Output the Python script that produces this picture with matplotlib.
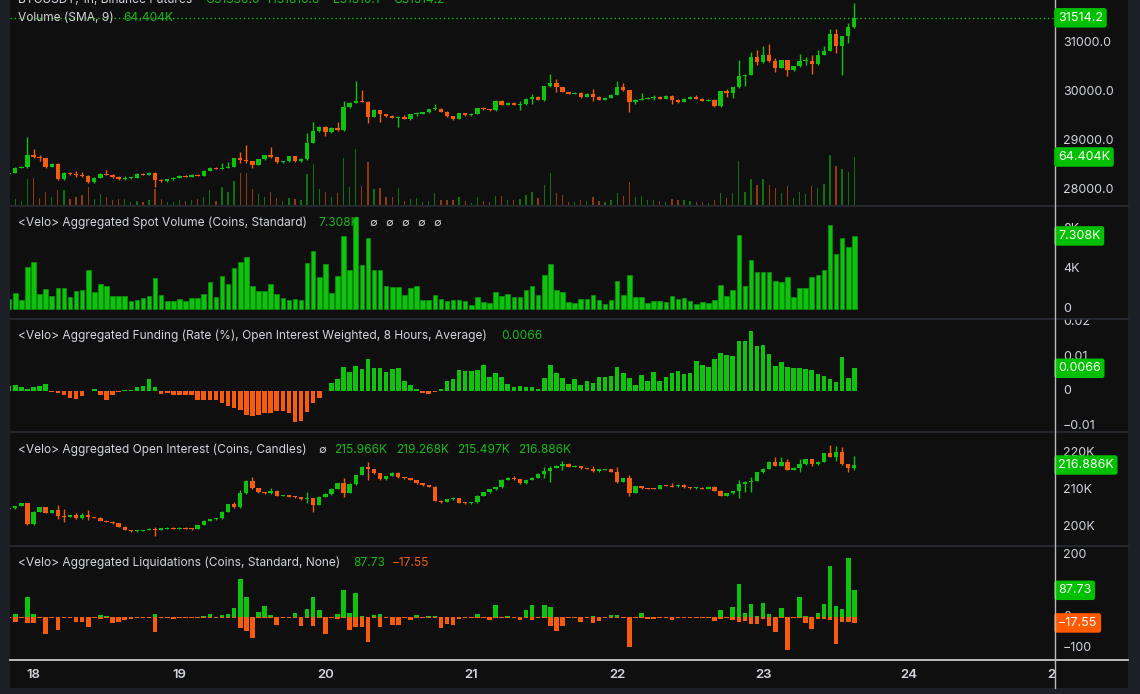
import numpy as np
import matplotlib
matplotlib.use('Agg')
import matplotlib.pyplot as plt
from matplotlib.lines import Line2D

plt.rcParams['font.family'] = ['Inter', 'DejaVu Sans']

# hourly bars, hour 0 = the 18th 00:00
hours = np.arange(-4, 136)
day_labels = ['18', '19', '20', '21', '22', '23', '24', '25']
day_hours = [0, 24, 48, 72, 96, 120, 144, 168]

# BTCUSDT 1h (Binance Futures)
price_open0 = 28320.0
price_close = [
    28350, 28450, 28470, 28710, 28670, 28650, 28470, 28530, 28220, 28350,
    28320, 28300, 28290, 28160, 28250, 28330, 28310, 28270, 28220, 28240,
    28250, 28330, 28310, 28350, 28200, 28180, 28220, 28250, 28290, 28270,
    28310, 28290, 28390, 28450, 28430, 28450, 28470, 28650, 28610, 28590,
    28510, 28630, 28710, 28670, 28570, 28590, 28690, 28590, 28630, 28960,
    29200, 29290, 29180, 29270, 29220, 29690, 29780, 29820, 29800, 29490,
    29630, 29550, 29510, 29470, 29490, 29450, 29550, 29560, 29590, 29650,
    29660, 29600, 29510, 29450, 29570, 29530, 29560, 29670, 29650, 29630,
    29820, 29740, 29780, 29740, 29760, 29860, 29900, 29840, 30120, 30180,
    30100, 30000, 29960, 29980, 29900, 29960, 29900, 29840, 29880, 29940,
    30100, 30040, 29800, 29840, 29860, 29880, 29900, 29860, 29920, 29840,
    29800, 29860, 29900, 29860, 29820, 29840, 29710, 30020, 29980, 30100,
    30330, 30350, 30710, 30610, 30760, 30630, 30490, 30650, 30450, 30530,
    30630, 30640, 30570, 30760, 30840, 31180, 30940, 31140, 31330, 31514.2]
price_high = [
    28370, 28470, 28490, 29080, 28840, 28720, 28660, 28550, 28560, 28360,
    28360, 28390, 28360, 28300, 28260, 28340, 28400, 28320, 28280, 28280,
    28270, 28340, 28340, 28370, 28370, 28220, 28230, 28260, 28300, 28300,
    28320, 28330, 28400, 28470, 28460, 28550, 28570, 28660, 28780, 28920,
    28600, 28640, 28720, 28880, 28680, 28600, 28700, 28700, 28650, 29160,
    29390, 29300, 29300, 29280, 29390, 29820, 29790, 30220, 30040, 29810,
    29650, 29640, 29560, 29530, 29510, 29530, 29560, 29590, 29600, 29660,
    29760, 29670, 29610, 29520, 29580, 29580, 29570, 29680, 29700, 29660,
    29840, 29830, 29790, 29790, 29810, 29870, 29960, 29910, 30130, 30370,
    30260, 30110, 30010, 29990, 29990, 29970, 30060, 29910, 29890, 29950,
    30220, 30180, 30050, 29850, 29980, 29890, 29940, 29920, 29930, 29930,
    29850, 29870, 29920, 29940, 29870, 29850, 29850, 30030, 30060, 30110,
    30650, 30370, 30820, 30860, 30940, 30980, 30690, 30660, 30660, 30540,
    30770, 30720, 30750, 30860, 30940, 31290, 31290, 31150, 31410, 31816.6]
price_low = [
    28300, 28340, 28440, 28450, 28660, 28590, 28450, 28460, 28200, 28210,
    28300, 28270, 28260, 28140, 28150, 28240, 28300, 28250, 28210, 28200,
    28220, 28240, 28300, 28300, 28060, 28170, 28170, 28210, 28240, 28260,
    28260, 28280, 28280, 28380, 28420, 28420, 28440, 28460, 28550, 28560,
    28450, 28500, 28620, 28660, 28550, 28560, 28580, 28580, 28580, 28620,
    28950, 29190, 29100, 29170, 29210, 29210, 29680, 29770, 29790, 29370,
    29480, 29390, 29490, 29460, 29290, 29440, 29420, 29520, 29550, 29580,
    29640, 29590, 29490, 29430, 29440, 29520, 29520, 29550, 29640, 29620,
    29620, 29730, 29730, 29730, 29640, 29740, 29750, 29830, 29820, 30110,
    29990, 29990, 29950, 29950, 29880, 29890, 29820, 29830, 29830, 29870,
    29930, 30030, 29590, 29750, 29830, 29850, 29840, 29850, 29850, 29750,
    29780, 29790, 29850, 29850, 29810, 29820, 29690, 29700, 29900, 29880,
    30090, 30120, 30340, 30550, 30600, 30620, 30400, 30480, 30330, 30430,
    30520, 30550, 30370, 30560, 30750, 30830, 30800, 30350, 31000, 31310]
volume_k = [
    2.7, 7.6, 5.4, 34.8, 36.2, 9.4, 17.4, 10.7, 20.1, 20.1,
    8.0, 10.7, 13.4, 24.1, 8.0, 14.7, 10.7, 6.7, 8.0, 8.0,
    4.0, 5.4, 4.0, 6.7, 21.4, 8.0, 4.0, 4.0, 6.7, 5.4,
    6.7, 8.0, 10.7, 20.1, 5.4, 24.1, 17.4, 32.2, 42.9, 42.9,
    21.4, 14.7, 10.7, 17.4, 9.4, 5.4, 9.4, 8.0, 6.7, 41.5,
    54.9, 21.4, 17.4, 10.7, 16.1, 63.0, 24.1, 75.0, 25.5, 57.6,
    21.4, 22.8, 10.7, 10.7, 22.8, 5.4, 8.0, 9.4, 4.0, 5.4,
    16.1, 6.7, 6.7, 6.7, 10.7, 5.4, 2.7, 10.7, 5.4, 4.0,
    12.1, 12.1, 6.7, 6.7, 8.0, 13.4, 17.4, 9.4, 26.8, 42.9,
    16.1, 13.4, 4.0, 4.0, 6.7, 5.4, 10.7, 5.4, 4.0, 6.7,
    16.1, 12.1, 30.8, 10.7, 12.1, 6.7, 6.7, 5.4, 4.0, 8.0,
    6.7, 6.7, 5.4, 4.0, 4.0, 2.7, 6.7, 16.1, 9.4, 16.1,
    59.0, 17.4, 34.8, 26.8, 34.8, 26.8, 22.8, 16.1, 25.5, 9.4,
    17.4, 14.7, 25.5, 22.8, 28.1, 67.0, 52.3, 48.2, 44.2, 64.404]

# <Velo> Aggregated Spot Volume, thousands of coins
spot_volume_k = [
    1.0, 1.6, 0.93, 4.2, 4.7, 1.5, 2.0, 1.3, 2.1, 2.1,
    1.2, 1.8, 1.9, 3.9, 1.7, 2.5, 2.3, 1.3, 1.3, 1.3,
    0.8, 0.9, 1.1, 1.3, 3.1, 1.4, 0.8, 0.8, 1.0, 0.8,
    1.1, 1.1, 1.5, 2.7, 1.2, 3.3, 2.5, 4.1, 4.7, 5.2,
    2.3, 1.8, 1.8, 2.5, 1.5, 1.1, 0.9, 1.0, 0.9, 4.6,
    5.8, 3.2, 4.5, 1.6, 3.3, 7.3, 3.9, 9.2, 4.4, 7.1,
    3.9, 3.9, 2.3, 2.2, 2.2, 1.4, 2.1, 2.3, 0.9, 0.9,
    1.4, 1.0, 0.8, 0.9, 0.9, 0.8, 0.4, 1.2, 0.7, 0.6,
    1.7, 1.3, 1.5, 1.2, 1.2, 1.9, 2.3, 1.4, 3.4, 4.5,
    1.9, 1.7, 0.7, 0.6, 1.0, 1.0, 1.4, 0.9, 0.5, 0.9,
    2.8, 1.4, 3.4, 1.2, 1.2, 0.6, 0.8, 0.8, 0.7, 1.3,
    1.0, 1.1, 0.8, 0.5, 0.7, 0.6, 0.9, 2.4, 1.3, 1.9,
    7.4, 2.3, 4.9, 3.7, 3.7, 3.7, 2.8, 2.7, 3.2, 1.2,
    2.1, 2.1, 3.2, 3.4, 3.9, 8.4, 5.5, 7.1, 6.2, 7.308]

# <Velo> Aggregated Funding, rate in %
funding = [
    0.00135, 0.0018, 0.0012, 0.0006, 0.0013, 0.0015, 0.0021, -0.0003, -0.0007, -0.0013,
    -0.0020, -0.0022, -0.0015, -0.0001, 0.0006, -0.0013, -0.0025, -0.0013, -0.0003, 0.0003,
    0.0003, 0.0011, 0.0014, 0.0035, 0.0013, -0.0009, -0.0007, -0.0013, -0.0013, -0.0013,
    -0.0013, -0.0025, -0.0026, -0.0025, -0.0025, -0.0035, -0.0043, -0.0049, -0.0056, -0.0069,
    -0.0072, -0.0070, -0.0064, -0.0064, -0.0059, -0.0059, -0.0064, -0.0091, -0.0087, -0.0060,
    -0.0036, -0.0020, 0.0001, 0.0022, 0.0036, 0.0069, 0.0055, 0.0072, 0.0064, 0.0092,
    0.0067, 0.0067, 0.0055, 0.0065, 0.0067, 0.0028, 0.0018, 0.0007, -0.0006, -0.0009,
    -0.0003, 0.0005, 0.0028, 0.0035, 0.0061, 0.0058, 0.0058, 0.0060, 0.0074, 0.0042,
    0.0052, 0.0040, 0.0020, 0.0012, 0.0014, 0.0013, 0.0012, 0.0007, 0.0038, 0.0076,
    0.0051, 0.0037, 0.0021, 0.0034, 0.0018, 0.0029, 0.0023, 0.0040, 0.0040, 0.0043,
    0.0070, 0.0053, 0.0038, 0.0017, 0.0045, 0.0028, 0.0055, 0.0029, 0.0041, 0.0053,
    0.0058, 0.0048, 0.0051, 0.0087, 0.0076, 0.0070, 0.0093, 0.0109, 0.0104, 0.0101,
    0.0146, 0.0144, 0.0173, 0.0130, 0.0132, 0.0106, 0.0072, 0.0084, 0.0069, 0.0068,
    0.0067, 0.0064, 0.0060, 0.0049, 0.0043, 0.0036, 0.0027, 0.0098, 0.0039, 0.0066]

# <Velo> Aggregated Open Interest, thousands of coins
oi_open0 = 204.9
oi_close = [
    205.2, 205.8, 206.5, 200.9, 204.3, 205.5, 204.0, 204.7, 203.1, 202.9,
    203.4, 202.5, 203.3, 202.8, 202.7, 201.8, 201.6, 201.1, 200.2, 199.3,
    199.05, 199.14, 199.32, 199.68, 199.32, 199.77, 199.95, 199.68, 199.95, 199.68,
    199.59, 200.68, 201.76, 202.21, 202.48, 204.28, 206.26, 205.45, 209.23, 212.57,
    210.59, 209.50, 209.23, 209.86, 208.60, 208.78, 208.33, 208.24, 207.61, 207.88,
    206.08, 208.33, 209.05, 210.50, 211.94, 209.41, 211.76, 214.19, 216.44, 215.72,
    214.64, 213.02, 213.92, 214.82, 213.56, 213.29, 212.84, 211.94, 211.49, 211.04,
    207.25, 206.89, 207.61, 208.06, 206.71, 206.53, 206.80, 208.60, 209.50, 210.32,
    210.86, 212.84, 213.47, 213.02, 211.94, 212.84, 213.47, 214.46, 215.36, 216.17,
    216.62, 217.16, 216.44, 216.62, 215.99, 215.81, 215.27, 215.72, 215.81, 215.00,
    212.39, 213.29, 209.41, 211.22, 210.59, 210.50, 210.41, 211.49, 211.22, 211.13,
    211.58, 210.86, 210.59, 210.77, 210.41, 211.04, 209.95, 208.51, 209.23, 209.77,
    211.67, 212.39, 212.66, 214.91, 215.81, 217.79, 216.71, 217.79, 215.54, 216.17,
    217.16, 218.51, 217.16, 217.79, 220.05, 219.14, 220.41, 217.07, 215.966, 216.886]
oi_high = [
    205.3, 205.9, 206.7, 206.6, 204.4, 205.6, 205.6, 204.8, 206.1, 204.9,
    203.5, 203.8, 203.8, 204.7, 202.9, 202.8, 201.9, 201.7, 201.2, 200.3,
    199.4, 199.3, 199.4, 199.8, 200.0, 199.9, 200.1, 200.0, 200.1, 200.1,
    199.8, 200.8, 201.9, 202.4, 202.6, 204.4, 206.4, 207.0, 210.0, 212.7,
    213.6, 210.7, 209.6, 210.8, 210.0, 208.9, 208.9, 208.4, 208.3, 209.5,
    207.9, 208.4, 209.2, 210.6, 212.1, 213.3, 211.9, 214.3, 216.6, 217.8,
    215.8, 214.7, 214.0, 214.9, 214.9, 213.7, 213.4, 212.9, 212.0, 211.6,
    211.1, 207.4, 207.7, 208.2, 208.1, 206.8, 206.9, 208.7, 209.6, 210.4,
    211.0, 213.0, 213.6, 213.9, 213.1, 212.9, 213.6, 214.6, 216.4, 216.7,
    216.8, 218.1, 217.3, 216.8, 216.7, 216.1, 216.6, 215.8, 215.9, 215.9,
    216.4, 213.4, 214.2, 211.3, 211.3, 210.7, 210.6, 211.6, 211.6, 211.9,
    211.7, 211.7, 210.9, 210.9, 210.9, 211.2, 211.1, 210.0, 209.3, 209.9,
    212.8, 212.5, 213.7, 215.0, 216.0, 217.9, 219.0, 219.1, 218.4, 216.3,
    218.4, 218.6, 218.6, 217.9, 220.2, 222.3, 222.0, 221.8, 217.2, 219.268]
oi_low = [
    204.8, 205.1, 205.7, 200.7, 200.8, 204.2, 203.9, 203.9, 202.2, 201.6,
    202.8, 202.4, 202.2, 202.0, 202.5, 201.7, 201.5, 201.0, 200.1, 199.2,
    198.9, 198.9, 199.0, 199.2, 197.7, 199.2, 199.7, 199.6, 199.6, 199.6,
    199.4, 199.5, 200.6, 201.7, 202.1, 202.4, 204.2, 205.2, 205.3, 209.1,
    210.5, 209.4, 209.1, 209.1, 208.5, 208.5, 208.2, 208.1, 207.5, 206.5,
    204.3, 206.0, 208.2, 208.9, 210.4, 208.3, 209.3, 211.6, 214.1, 212.8,
    214.5, 212.9, 212.9, 213.8, 213.4, 213.2, 212.7, 211.8, 211.3, 210.9,
    207.1, 206.7, 206.8, 207.5, 206.6, 206.4, 206.4, 206.7, 208.5, 209.4,
    210.2, 210.8, 212.7, 212.9, 211.8, 211.8, 212.7, 213.4, 213.3, 212.4,
    216.0, 215.6, 216.3, 216.3, 215.9, 215.7, 215.1, 215.1, 215.6, 214.9,
    212.1, 212.2, 208.5, 209.3, 210.5, 210.4, 210.3, 210.3, 211.1, 211.0,
    211.0, 210.8, 210.5, 210.5, 210.3, 210.3, 209.8, 208.4, 208.4, 209.1,
    207.9, 209.7, 209.7, 212.5, 214.8, 215.7, 216.6, 216.6, 215.4, 215.4,
    215.0, 217.0, 216.6, 217.0, 217.7, 219.0, 218.1, 216.9, 215.1, 215.497]

# <Velo> Aggregated Liquidations, coins (long +, short -)
liq_long = [
    1.0, 10.2, 0.8, 67, 10, 0.8, 0.5, 0.8, 0.5, 0.8,
    0.8, 0.5, 1.5, 0.5, 1.0, 8, 4.8, 0.5, 0.5, 0.8,
    1.0, 2.7, 1.0, 1.0, 11.3, 0.8, 0.8, 0.5, 2.7, 1.0,
    1.0, 1.0, 4.8, 11.3, 1.0, 9.1, 12.4, 29.6, 123, 67,
    0.5, 18.8, 37, 9.1, 0.5, 0.8, 0.8, 14.5, 0.5, 26.3,
    65, 24.2, 0.5, 0.8, 10.2, 88.7, 14.5, 78, 5.9, 0.5,
    8, 10.2, 1.0, 0.5, 0.5, 1.5, 0.5, 8, 1.0, 4.8,
    4.8, 0.5, 0.5, 0.5, 2.7, 1.0, 1.0, 10.2, 1.0, 0.5,
    40, 1.0, 4.8, 1.0, 0.5, 24.2, 40, 2.7, 40, 34,
    0.5, 0.5, 1.0, 1.0, 0.5, 2.7, 5.9, 0.5, 1.0, 7,
    9.1, 1.0, 0.5, 2.7, 15.6, 0.5, 0.5, 1.0, 1.0, 0.5,
    1.0, 1.0, 2.7, 1.0, 2.7, 1.0, 0.5, 24.2, 1.0, 34,
    107, 13.4, 43.5, 4.8, 45.7, 11.3, 0.5, 31.7, 0.5, 1.6,
    65, 4.8, 0.5, 13.4, 42.5, 167, 37, 28.5, 191, 87.73]
liq_short = [
    -2, -13.4, -2.7, -18.8, -18.8, -1.5, -54, -1.0, -40, -1.0,
    -1.5, -15.6, -13.4, -29.6, -1.0, -4.8, -1.5, -18.8, -13.4, -9,
    -4.8, -1.0, -1.5, -1.5, -47.8, -1.0, -1.5, -5.9, -1.0, -1.0,
    -1.0, -1.0, -1.0, -1.5, -1.0, -1.0, -1.0, -1.5, -35, -43.5,
    -67, -1.5, -1.0, -1.0, -24.2, -1.5, -1.0, -1.5, -27.4, -1.0,
    -27.4, -1.0, -53, -1.5, -5.9, -1.0, -40, -29.6, -29.6, -78,
    -1.5, -29.6, -1.5, -24.2, -24.2, -1.0, -8, -1.0, -1.5, -1.0,
    -1.0, -35, -21, -24.2, -4.8, -2, -1.5, -1.0, -1.5, -7,
    -1.0, -1.5, -1.0, -2, -9, -1.0, -9, -1.0, -1.0, -28.5,
    -43.5, -26.3, -2, -1.5, -15.6, -1.0, -16.7, -11.3, -1.5, -1.0,
    -1.0, -1.5, -96, -1.0, -1.0, -5.9, -5.9, -1.5, -1.5, -9,
    -1.5, -1.5, -1.0, -1.5, -1.0, -1.5, -11.3, -4.8, -1.5, -8,
    -15.6, -11.3, -22, -22, -4.8, -26.3, -47.8, -1.5, -105, -1.5,
    -1.0, -16.7, -38, -4.8, -4.8, -9, -84, -15.6, -15.6, -17.55]

# ---- style ----
W, H = 1140, 694
GREEN = '#0ec20e'
RED = '#f75c0e'
BG = '#0f0f0f'
FRAME = '#1c1f26'
TXT = '#d1d4dc'
LEG_GREEN = '#1cb81c'
SEP = '#2a2d35'
FS = 8.6


def px2h(px):
    return (px - 33.5) / 6.08


XL = (px2h(10), px2h(1128))
SCALE_X = px2h(1055)

fig = plt.figure(figsize=(W / 100, H / 100), dpi=100, facecolor=FRAME)

bg = fig.add_axes([10 / W, 1 - 688 / H, 1118 / W, 688 / H])
bg.set_facecolor(BG)
bg.set_xticks([])
bg.set_yticks([])
for s in bg.spines.values():
    s.set_visible(False)


def panel(top, bottom, ylim):
    ax = fig.add_axes([10 / W, 1 - bottom / H, 1118 / W, (bottom - top) / H])
    ax.set_facecolor('none')
    ax.set_xlim(*XL)
    ax.set_ylim(*ylim)
    ax.set_xticks([])
    ax.set_yticks([])
    for s in ax.spines.values():
        s.set_visible(False)
    return ax


def candles(ax, opens, hi, lo, closes, min_body):
    o = np.asarray(opens, float)
    c = np.asarray(closes, float)
    cols = np.where(c >= o, GREEN, RED)
    ax.vlines(hours, lo, hi, colors=cols, lw=1.0, zorder=3)
    body = np.abs(c - o)
    pad = np.maximum(min_body - body, 0) / 2
    ax.bar(hours, body + 2 * pad, bottom=np.minimum(o, c) - pad, width=0.72,
           color=cols, lw=0, zorder=4)
    return cols


def scale_labels(ax, ticks, labels):
    for v, s in zip(ticks, labels):
        ax.text(px2h(1063), v, s, color=TXT, fontsize=9, va='center', ha='left',
                clip_on=True, zorder=5)


def value_box(ax, v, s, color):
    ax.text(px2h(1058), v, s, color='white', fontsize=9, va='center', ha='left',
            clip_on=True, zorder=6,
            bbox=dict(boxstyle='round,pad=0.3,rounding_size=0.2', fc=color, ec='none'))


def legend(y, parts):
    for x, s, col in parts:
        fig.text(x / W, 1 - y / H, s, color=col, fontsize=FS, va='center', ha='left')


# ---- panel 1: price + volume ----
ax1 = panel(0, 206, (27673, 31878))
axv = ax1.twinx()
axv.set_ylim(-1.3, 274.7)
axv.set_yticks([])
for s in axv.spines.values():
    s.set_visible(False)
ax1.set_zorder(3)
axv.set_zorder(2)
axv.set_facecolor('none')

p_open = np.concatenate([[price_open0], price_close[:-1]])
cols = candles(ax1, p_open, price_high, price_low, price_close, 20)
axv.bar(hours, volume_k, width=0.22, color=cols, alpha=0.55, lw=0)
ax1.hlines(price_close[-1], XL[0], SCALE_X, colors=GREEN, linestyles=(0, (1, 2)), lw=1, zorder=2)
scale_labels(ax1, [31000, 30000, 29000, 28000], ['31000.0', '30000.0', '29000.0', '28000.0'])
value_box(ax1, price_close[-1], '31514.2', '#00c000')
value_box(axv, volume_k[-1], '64.404K', '#00c000')

legend(0, [(18, 'BTCUSDT, 1h, Binance Futures', TXT),
           (205, 'O31330.0', LEG_GREEN), (268, 'H31816.6', LEG_GREEN),
           (333, 'L31310.1', LEG_GREEN), (393, 'C31514.2', LEG_GREEN)])
legend(18, [(18, 'Volume (SMA, 9)', TXT), (123, '64.404K', LEG_GREEN)])

# ---- panel 2: spot volume ----
ax2 = panel(206, 319, (-1.0, 10.3))
ax2.bar(hours, spot_volume_k, width=0.75, color=GREEN, edgecolor='#089808', lw=0.5)
scale_labels(ax2, [8, 4, 0], ['8K', '4K', '0'])
value_box(ax2, spot_volume_k[-1], '7.308K', '#00c000')
legend(223, [(18, '<Velo> Aggregated Spot Volume (Coins, Standard)', TXT),
             (318, '7.308K', LEG_GREEN)])
for x in [369, 385, 401, 417, 433]:
    fig.text(x / W, 1 - 223 / H, '\u2205', color=TXT, fontsize=8, va='center', ha='left')

# ---- panel 3: funding ----
ax3 = panel(319, 432, (-0.01188, 0.02087))
fcol = np.where(np.asarray(funding) >= 0, GREEN, RED)
ax3.bar(hours, funding, width=0.75, color=fcol, lw=0)
scale_labels(ax3, [0.02, 0.01, 0, -0.01], ['0.02', '0.01', '0', '\u22120.01'])
value_box(ax3, funding[-1], '0.0066', '#00c000')
legend(336, [(18, '<Velo> Aggregated Funding (Rate (%), Open Interest Weighted, 8 Hours, Average)', TXT),
             (501, '0.0066', LEG_GREEN)])

# ---- panel 4: open interest ----
ax4 = panel(432, 546, (195.0, 225.8))
oi_open = np.concatenate([[oi_open0], oi_close[:-1]])
candles(ax4, oi_open, oi_high, oi_low, oi_close, 0.27)
scale_labels(ax4, [220, 210, 200], ['220K', '210K', '200K'])
value_box(ax4, oi_close[-1], '216.886K', '#00c000')
legend(450, [(18, '<Velo> Aggregated Open Interest (Coins, Candles)', TXT),
             (334, '215.966K', LEG_GREEN), (396, '219.268K', LEG_GREEN),
             (457, '215.497K', LEG_GREEN), (518, '216.886K', LEG_GREEN)])
fig.text(318 / W, 1 - 450 / H, '\u2205', color=TXT, fontsize=8, va='center', ha='left')

# ---- panel 5: liquidations ----
ax5 = panel(546, 660, (-137.1, 230.6))
ax5.bar(hours, liq_long, width=0.75, color=GREEN, lw=0)
ax5.bar(hours, liq_short, width=0.75, color=RED, lw=0)
scale_labels(ax5, [200, 0, -100], ['200', '0', '\u2212100'])
value_box(ax5, liq_long[-1], '87.73', '#00c000')
value_box(ax5, liq_short[-1], '\u221217.55', '#ff5a00')
legend(563, [(18, '<Velo> Aggregated Liquidations (Coins, Standard, None)', TXT),
             (353, '87.73', LEG_GREEN), (392, '\u221217.55', RED)])

# ---- time axis ----
axt = fig.add_axes([10 / W, 1 - 688 / H, 1045 / W, 28 / H])
axt.set_facecolor('none')
axt.set_xlim(px2h(10), px2h(1055))
axt.set_ylim(0, 1)
axt.set_xticks([])
axt.set_yticks([])
for s in axt.spines.values():
    s.set_visible(False)
for d, lab in zip(day_hours, day_labels):
    axt.text(d, 0.45, lab, color=TXT, fontsize=9.5, fontweight='semibold',
             ha='center', va='center', clip_on=True)

# separators and scale border
for y in [206, 319, 432, 546]:
    fig.add_artist(Line2D([10 / W, 1128 / W], [1 - y / H] * 2, color=SEP, lw=1.2))
fig.add_artist(Line2D([10 / W, 1128 / W], [1 - 660 / H] * 2, color='#c9c9c9', lw=1.3))
fig.add_artist(Line2D([1055 / W] * 2, [1 - 688 / H, 1], color='#b8b8b8', lw=1.0))

fig.savefig('out.png', dpi=100, facecolor=FRAME)
